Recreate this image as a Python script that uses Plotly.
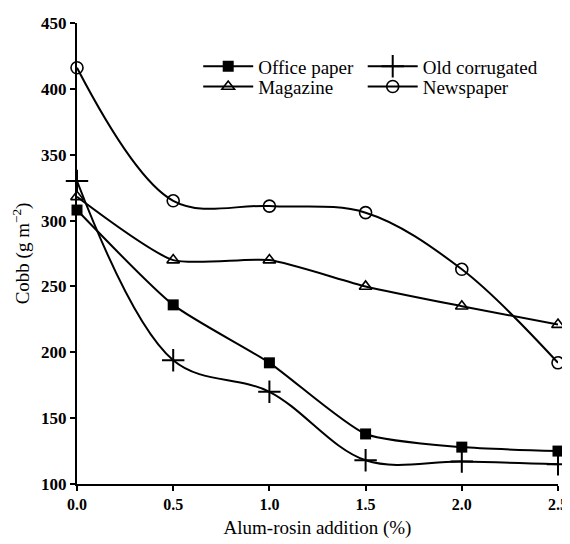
import plotly.graph_objects as go

x_vals = [0.0, 0.5, 1.0, 1.5, 2.0, 2.5]
office_paper = [308, 236, 192, 138, 128, 125]
old_corrugated = [330, 194, 170, 118, 117, 115]
magazine = [318, 270, 270, 250, 235, 221]
newspaper = [416, 315, 311, 306, 263, 192]

x_ticks = [0.0, 0.5, 1.0, 1.5, 2.0, 2.5]
x_tick_labels = ["0.0", "0.5", "1.0", "1.5", "2.0", "2.5"]
y_ticks = [100, 150, 200, 250, 300, 350, 400, 450]

FONT = "Liberation Serif"

fig = go.Figure()
series = [
    ("Office paper", office_paper, dict(symbol="square", size=11, color="black"), 0.6, "legend"),
    ("Old corrugated", old_corrugated, dict(symbol="cross-thin-open", size=16, color="black",
                                            line=dict(width=2, color="black")), 1.0, "legend2"),
    ("Magazine", magazine, dict(symbol="triangle-up-open", size=11, color="black",
                                line=dict(width=1.6, color="black")), 0.6, "legend3"),
    ("Newspaper", newspaper, dict(symbol="circle-open", size=12, color="black",
                                  line=dict(width=1.6, color="black")), 1.0, "legend4"),
]
for name, ys, marker, smooth, leg in series:
    fig.add_trace(go.Scatter(
        x=x_vals, y=ys, name=name, mode="lines+markers",
        line=dict(color="black", width=2, shape="spline", smoothing=smooth),
        marker=marker, cliponaxis=False, legend=leg,
    ))

legend_common = dict(orientation="v", xanchor="left", yanchor="middle",
                     itemwidth=50,
                     font=dict(family=FONT, size=19, color="black"),
                     bgcolor="rgba(0,0,0,0)")

col1_x, col2_x = 0.252, 0.594
row1_y, row2_y = 0.906, 0.862

fig.update_layout(
    width=562, height=536,
    margin=dict(l=69, r=12, t=15, b=60),
    plot_bgcolor="white", paper_bgcolor="white",
    font=dict(family=FONT, size=17, color="black"),
    showlegend=True,
    legend=dict(x=col1_x, y=row1_y, **legend_common),
    legend2=dict(x=col2_x, y=row1_y, **legend_common),
    legend3=dict(x=col1_x, y=row2_y, **legend_common),
    legend4=dict(x=col2_x, y=row2_y, **legend_common),
    xaxis=dict(range=[0, 2.5], tickvals=x_ticks, ticktext=x_tick_labels,
               showgrid=False, zeroline=False, showline=True, linecolor="black",
               linewidth=2, ticks="outside", ticklen=5, tickwidth=2, tickcolor="black",
               ticklabeloverflow="allow", automargin=False,
               tickfont=dict(family=FONT, size=16, color="black", weight="bold"),
               title=dict(text="Alum-rosin addition (%)", standoff=8,
                          font=dict(family=FONT, size=19, color="black"))),
    yaxis=dict(range=[100, 450], tickvals=y_ticks,
               showgrid=False, zeroline=False, showline=True, linecolor="black",
               linewidth=2, ticks="outside", ticklen=5, tickwidth=2, tickcolor="black",
               ticklabeloverflow="allow", automargin=False,
               tickfont=dict(family=FONT, size=17, color="black", weight="bold"),
               title=dict(text="Cobb (g m<sup>−2</sup>)", standoff=6,
                          font=dict(family=FONT, size=19, color="black"))),
)

fig.write_html("out.html")
